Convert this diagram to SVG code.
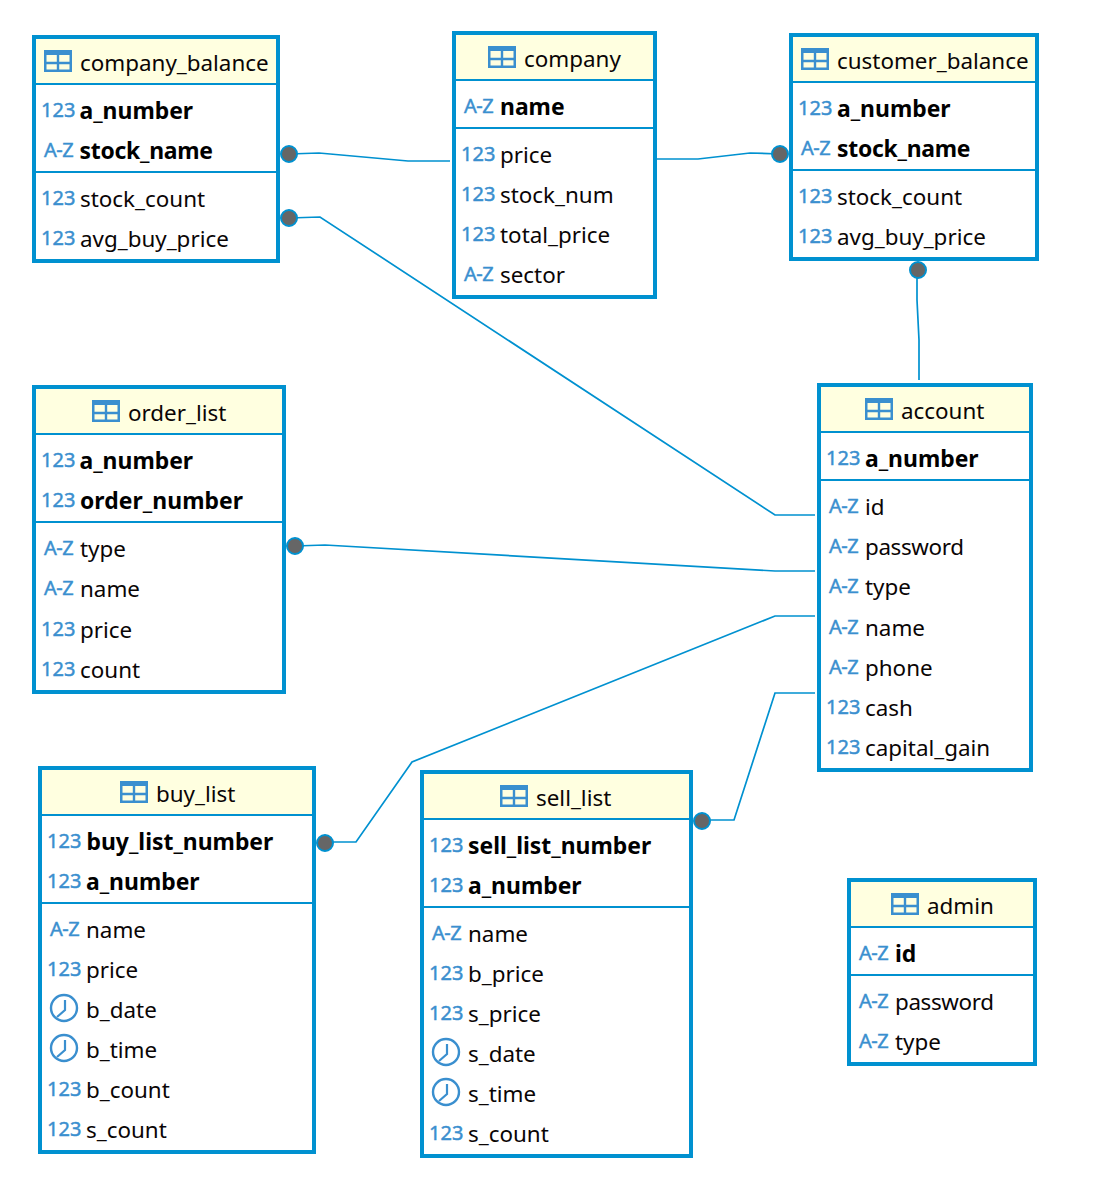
<svg xmlns="http://www.w3.org/2000/svg" width="1098" height="1194" viewBox="0 0 1098 1194">
<style>
text{font-family:"Noto Sans","Open Sans","Liberation Sans",sans-serif;font-size:22.4px;fill:#0a0505}
.k{font-size:22.9px;font-weight:700;fill:#000}
.n{font-size:20px;fill:#3a8fcf;stroke:#3a8fcf;stroke-width:.45}
.a{font-size:20px;letter-spacing:-.5px;fill:#3a8fcf;stroke:#3a8fcf;stroke-width:.45}
.box{fill:#fff;stroke:#0091d0;stroke-width:4}
.head{fill:#ffffe0}
.sep{stroke:#0091d0;stroke-width:2;fill:none}
.conn{fill:none;stroke:#0091d0;stroke-width:1.7}
.dot{fill:#666;stroke:#0091d0;stroke-width:2}
</style>
<defs>
<g id="tbl"><rect x="1.25" y="1.25" width="25.5" height="19.5" fill="none" stroke="#3a8fcf" stroke-width="2.5"/><rect x="0" y="0" width="28" height="5" fill="#3a8fcf"/><path d="M14 5V21M1 13H27" stroke="#3a8fcf" stroke-width="2.4" fill="none"/></g>
<g id="clk"><circle cx="0" cy="0" r="13" fill="#fff" stroke="#3a8fcf" stroke-width="2.4"/><path d="M1-8V2L-7 9" fill="none" stroke="#3a8fcf" stroke-width="2.2"/></g>
</defs>
<g id="connectors">
<path class="conn" d="M289 154L319 153L408 161H450"/>
<path class="conn" d="M289 218L320 217L775 515H815"/>
<path class="conn" d="M657 159H698L750 153L780 154"/>
<path class="conn" d="M917 270V300L919 340V380"/>
<path class="conn" d="M295 546L325 545L775 571H815"/>
<path class="conn" d="M325 842H356L412 762L775 616H815"/>
<path class="conn" d="M702 820H734L775 693H815"/>
<circle class="dot" cx="289" cy="154" r="8"/>
<circle class="dot" cx="289" cy="218" r="8"/>
<circle class="dot" cx="780" cy="154" r="8"/>
<circle class="dot" cx="918" cy="270" r="8"/>
<circle class="dot" cx="295" cy="546" r="8"/>
<circle class="dot" cx="325" cy="843" r="8"/>
<circle class="dot" cx="702" cy="821" r="8"/>
</g>
<g id="company_balance">
<rect class="box" x="34" y="37" width="244" height="224"/><rect class="head" x="36" y="39" width="240" height="45"/>
<path class="sep" d="M36 84H276M36 172H276"/>
<use href="#tbl" x="44" y="50"/><text x="80" y="71">company_balance</text>
<text class="n" x="41" y="117">123</text><text class="k" x="79.5" y="119">a_number</text>
<text class="a" x="44" y="157">A-Z</text><text class="k" x="79.5" y="159" textLength="133.5">stock_name</text>
<text class="n" x="41" y="205">123</text><text x="80" y="207">stock_count</text>
<text class="n" x="41" y="245">123</text><text x="80" y="247">avg_buy_price</text>
</g>
<g id="company">
<rect class="box" x="454" y="33" width="201" height="264"/><rect class="head" x="456" y="35" width="197" height="45"/>
<path class="sep" d="M456 80H653M456 128H653"/>
<use href="#tbl" x="488" y="46"/><text x="524" y="67">company</text>
<text class="a" x="464" y="113">A-Z</text><text class="k" x="500" y="115">name</text>
<text class="n" x="461" y="161">123</text><text x="500" y="163">price</text>
<text class="n" x="461" y="201">123</text><text x="500" y="203">stock_num</text>
<text class="n" x="461" y="241">123</text><text x="500" y="243">total_price</text>
<text class="a" x="464" y="281">A-Z</text><text x="500" y="283">sector</text>
</g>
<g id="customer_balance">
<rect class="box" x="791" y="35" width="246" height="224"/><rect class="head" x="793" y="37" width="242" height="45"/>
<path class="sep" d="M793 82H1035M793 170H1035"/>
<use href="#tbl" x="801" y="48"/><text x="837" y="69">customer_balance</text>
<text class="n" x="798" y="115">123</text><text class="k" x="837" y="117">a_number</text>
<text class="a" x="801" y="155">A-Z</text><text class="k" x="837" y="157" textLength="133.5">stock_name</text>
<text class="n" x="798" y="203">123</text><text x="837" y="205">stock_count</text>
<text class="n" x="798" y="243">123</text><text x="837" y="245">avg_buy_price</text>
</g>
<g id="order_list">
<rect class="box" x="34" y="387" width="250" height="305"/><rect class="head" x="36" y="389" width="246" height="45"/>
<path class="sep" d="M36 434H282M36 522H282"/>
<use href="#tbl" x="92" y="400"/><text x="128" y="421">order_list</text>
<text class="n" x="41" y="467">123</text><text class="k" x="79.5" y="469">a_number</text>
<text class="n" x="41" y="507">123</text><text class="k" x="80" y="509" textLength="163">order_number</text>
<text class="a" x="44" y="555">A-Z</text><text x="80" y="557">type</text>
<text class="a" x="44" y="595">A-Z</text><text x="80" y="597">name</text>
<text class="n" x="41" y="636">123</text><text x="80" y="638">price</text>
<text class="n" x="41" y="676">123</text><text x="80" y="678">count</text>
</g>
<g id="account">
<rect class="box" x="819" y="385" width="212" height="385"/><rect class="head" x="821" y="387" width="208" height="45"/>
<path class="sep" d="M821 432H1029M821 480H1029"/>
<use href="#tbl" x="865" y="398"/><text x="901" y="419">account</text>
<text class="n" x="826" y="465">123</text><text class="k" x="865" y="467">a_number</text>
<text class="a" x="829" y="513">A-Z</text><text x="865" y="515">id</text>
<text class="a" x="829" y="553">A-Z</text><text x="865" y="555" textLength="99">password</text>
<text class="a" x="829" y="593">A-Z</text><text x="865" y="595">type</text>
<text class="a" x="829" y="634">A-Z</text><text x="865" y="636">name</text>
<text class="a" x="829" y="674">A-Z</text><text x="865" y="676">phone</text>
<text class="n" x="826" y="714">123</text><text x="865" y="716">cash</text>
<text class="n" x="826" y="754">123</text><text x="865" y="756">capital_gain</text>
</g>
<g id="buy_list">
<rect class="box" x="40" y="768" width="274" height="384"/><rect class="head" x="42" y="770" width="270" height="45"/>
<path class="sep" d="M42 815H312M42 903H312"/>
<use href="#tbl" x="120" y="781"/><text x="156" y="802">buy_list</text>
<text class="n" x="47" y="848">123</text><text class="k" x="86.5" y="850">buy_list_number</text>
<text class="n" x="47" y="888">123</text><text class="k" x="86" y="890">a_number</text>
<text class="a" x="50" y="936">A-Z</text><text x="86" y="938">name</text>
<text class="n" x="47" y="976">123</text><text x="86" y="978">price</text>
<use href="#clk" x="64" y="1008"/><text x="86" y="1018">b_date</text>
<use href="#clk" x="64" y="1048"/><text x="86" y="1058">b_time</text>
<text class="n" x="47" y="1096">123</text><text x="86" y="1098">b_count</text>
<text class="n" x="47" y="1136">123</text><text x="86" y="1138">s_count</text>
</g>
<g id="sell_list">
<rect class="box" x="422" y="772" width="269" height="384"/><rect class="head" x="424" y="774" width="265" height="45"/>
<path class="sep" d="M424 819H689M424 907H689"/>
<use href="#tbl" x="500" y="785"/><text x="536" y="806">sell_list</text>
<text class="n" x="429" y="852">123</text><text class="k" x="468" y="854">sell_list_number</text>
<text class="n" x="429" y="892">123</text><text class="k" x="468" y="894">a_number</text>
<text class="a" x="432" y="940">A-Z</text><text x="468" y="942">name</text>
<text class="n" x="429" y="980">123</text><text x="468" y="982">b_price</text>
<text class="n" x="429" y="1020">123</text><text x="468" y="1022">s_price</text>
<use href="#clk" x="446" y="1052"/><text x="468" y="1062">s_date</text>
<use href="#clk" x="446" y="1092"/><text x="468" y="1102">s_time</text>
<text class="n" x="429" y="1140">123</text><text x="468" y="1142">s_count</text>
</g>
<g id="admin">
<rect class="box" x="849" y="880" width="186" height="184"/><rect class="head" x="851" y="882" width="182" height="45"/>
<path class="sep" d="M851 927H1033M851 975H1033"/>
<use href="#tbl" x="891" y="893"/><text x="927" y="914">admin</text>
<text class="a" x="859" y="960">A-Z</text><text class="k" x="895" y="962">id</text>
<text class="a" x="859" y="1008">A-Z</text><text x="895" y="1010" textLength="99">password</text>
<text class="a" x="859" y="1048">A-Z</text><text x="895" y="1050">type</text>
</g>
</svg>
